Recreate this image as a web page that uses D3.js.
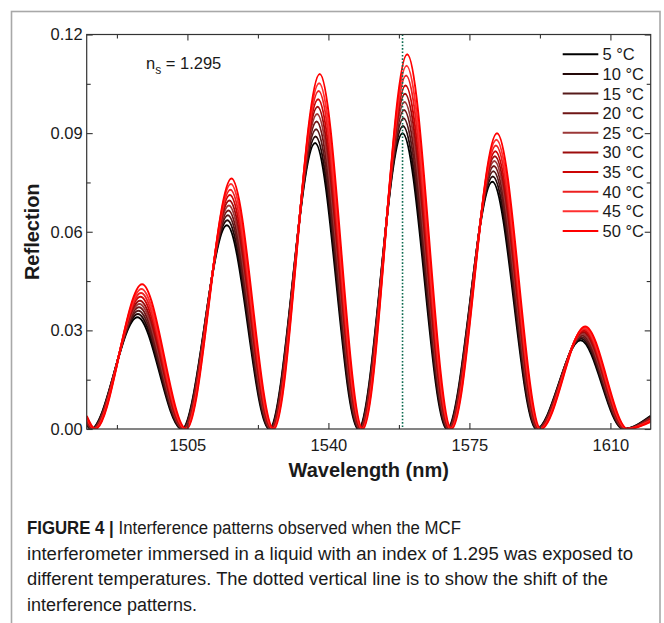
<!DOCTYPE html>
<html>
<head>
<meta charset="utf-8">
<script src="https://cdn.jsdelivr.net/npm/d3@7"></script>
<style>
  html, body { margin: 0; padding: 0; background: #fff; }
  svg { display: block; }
  text { font-family: "Liberation Sans", Arial, Helvetica, sans-serif; fill: #1a1a1a; }
</style>
</head>
<body>
<svg id="fig" width="664" height="623"></svg>
<script>
// ---- data ----
const temperatures = ["5 °C", "10 °C", "15 °C", "20 °C", "25 °C", "30 °C", "35 °C", "40 °C", "45 °C", "50 °C"];
const seriesColors = ["#000000", "#240909", "#561b1b", "#6f1616", "#9b3838", "#9c0c0c", "#cc0505", "#ec2020", "#ff3030", "#ff0000"];

// fringe minima and maxima of the 5 °C spectrum (nm)
const troughNm = [1481.0, 1503.6, 1525.3, 1547.4, 1569.4, 1591.6, 1613.2];
const peakNm = [1492.6, 1514.8, 1536.7, 1558.4, 1580.7, 1602.6];
// red shift of each spectrum relative to 5 °C (nm)
const shiftNm = [0, 0.12, 0.25, 0.38, 0.5, 0.62, 0.75, 0.88, 1.0, 1.15];
// peak reflection of each fringe, one row per temperature
const peakReflection = [
  [0.0340, 0.0620, 0.0870, 0.0900, 0.0752, 0.0270],
  [0.0350, 0.0635, 0.0890, 0.0922, 0.0768, 0.0275],
  [0.0360, 0.0650, 0.0912, 0.0945, 0.0784, 0.0280],
  [0.0370, 0.0665, 0.0935, 0.0970, 0.0800, 0.0285],
  [0.0380, 0.0680, 0.0958, 0.0995, 0.0815, 0.0290],
  [0.0390, 0.0695, 0.0980, 0.1020, 0.0830, 0.0295],
  [0.0402, 0.0712, 0.1003, 0.1045, 0.0845, 0.0300],
  [0.0414, 0.0728, 0.1028, 0.1075, 0.0862, 0.0304],
  [0.0426, 0.0745, 0.1052, 0.1105, 0.0880, 0.0308],
  [0.0440, 0.0762, 0.1080, 0.1140, 0.0900, 0.0312]
];
// reflection at the two ends of the scanned range
const edgeLeft = [0.0012, 0.0015, 0.0018, 0.0021, 0.0024, 0.0027, 0.0030, 0.0033, 0.0036, 0.0040];
const edgeRight = [0.0040, 0.0038, 0.0036, 0.0034, 0.0032, 0.0030, 0.0028, 0.0026, 0.0024, 0.0022];

const markerNm = 1558.4;
const xMajorTicks = [1505, 1540, 1575, 1610];
const xMinorTicks = [1487.5, 1522.5, 1557.5, 1592.5];
const yMajorTicks = [0, 0.03, 0.06, 0.09, 0.12];
const yMinorTicks = [0.015, 0.045, 0.075, 0.105];
const indexLabel = "1.295";

const captionLines = [
  { bold: "FIGURE 4 |", text: " Interference patterns observed when the MCF", len: 434 },
  { bold: "", text: "interferometer immersed in a liquid with an index of 1.295 was exposed to", len: 606 },
  { bold: "", text: "different temperatures. The dotted vertical line is to show the shift of the", len: 581 },
  { bold: "", text: "interference patterns.", len: 170 }
];

// ---- layout ----
const svg = d3.select("#fig");
const plot = { left: 86.7, right: 650.7, top: 34.5, bottom: 429 };

const x = d3.scaleLinear().domain([1480, 1620]).range([plot.left, plot.right]);
const y = d3.scaleLinear().domain([0, 0.12]).range([plot.bottom, plot.top]);

// outer figure frame
svg.append("rect")
  .attr("x", 11.5).attr("y", 11.5)
  .attr("width", 648.5).attr("height", 640)
  .attr("fill", "none").attr("stroke", "#a8a8a8").attr("stroke-width", 1.6);

svg.append("clipPath").attr("id", "plotClip")
  .append("rect")
  .attr("x", plot.left).attr("y", plot.top)
  .attr("width", plot.right - plot.left).attr("height", plot.bottom - plot.top);

// spectra
const line = d3.line()
  .x(d => x(d[0]))
  .y(d => y(d[1]))
  .curve(d3.curveMonotoneX);

const spectra = temperatures.map((t, i) => {
  const pts = [[1480, edgeLeft[i]]];
  troughNm.forEach((tw, k) => {
    pts.push([tw + shiftNm[i], 0]);
    if (k < peakNm.length) pts.push([peakNm[k] + shiftNm[i], peakReflection[i][k]]);
  });
  pts.push([1620, edgeRight[i]]);
  return pts;
});

const curves = svg.append("g").attr("clip-path", "url(#plotClip)");
curves.selectAll("path")
  .data(spectra)
  .join("path")
  .attr("d", line)
  .attr("fill", "none")
  .attr("stroke", (d, i) => seriesColors[i])
  .attr("stroke-width", 2);

// dotted reference line
svg.append("line")
  .attr("x1", x(markerNm)).attr("x2", x(markerNm))
  .attr("y1", plot.top).attr("y2", plot.bottom)
  .attr("stroke", "#0d6b50").attr("stroke-width", 1.6)
  .attr("stroke-dasharray", "1.6,1.8");

// axes (ticks point inward on all four sides)
const axisColor = "#333";
function styleAxis(g) {
  g.select(".domain").remove();
  g.selectAll(".tick line").attr("stroke", axisColor).attr("stroke-width", 1.1);
  g.selectAll(".tick text").attr("fill", "#1a1a1a")
    .style("font-family", '"Liberation Sans", Arial, sans-serif');
}
const h = plot.bottom - plot.top, w = plot.right - plot.left;

svg.append("g").attr("transform", `translate(0,${plot.bottom})`)
  .call(d3.axisBottom(x).tickValues(xMajorTicks).tickSizeInner(-6).tickSizeOuter(0).tickPadding(10).tickFormat(d3.format("d")))
  .call(styleAxis)
  .call(g => g.selectAll(".tick text").attr("font-size", 16.5));
svg.append("g").attr("transform", `translate(0,${plot.bottom})`)
  .call(d3.axisBottom(x).tickValues(xMinorTicks).tickSizeInner(-4).tickSizeOuter(0).tickFormat(""))
  .call(styleAxis);
svg.append("g").attr("transform", `translate(0,${plot.top})`)
  .call(d3.axisTop(x).tickValues(xMajorTicks).tickSizeInner(-6).tickSizeOuter(0).tickFormat(""))
  .call(styleAxis);
svg.append("g").attr("transform", `translate(0,${plot.top})`)
  .call(d3.axisTop(x).tickValues(xMinorTicks).tickSizeInner(-4).tickSizeOuter(0).tickFormat(""))
  .call(styleAxis);

svg.append("g").attr("transform", `translate(${plot.left},0)`)
  .call(d3.axisLeft(y).tickValues(yMajorTicks).tickSizeInner(-6).tickSizeOuter(0).tickPadding(4).tickFormat(d3.format(".2f")))
  .call(styleAxis)
  .call(g => g.selectAll(".tick text").attr("font-size", 16.5).attr("x", -4));
svg.append("g").attr("transform", `translate(${plot.left},0)`)
  .call(d3.axisLeft(y).tickValues(yMinorTicks).tickSizeInner(-4).tickSizeOuter(0).tickFormat(""))
  .call(styleAxis);
svg.append("g").attr("transform", `translate(${plot.right},0)`)
  .call(d3.axisRight(y).tickValues(yMajorTicks).tickSizeInner(-6).tickSizeOuter(0).tickFormat(""))
  .call(styleAxis);
svg.append("g").attr("transform", `translate(${plot.right},0)`)
  .call(d3.axisRight(y).tickValues(yMinorTicks).tickSizeInner(-4).tickSizeOuter(0).tickFormat(""))
  .call(styleAxis);

// plot frame
svg.append("rect")
  .attr("x", plot.left).attr("y", plot.top).attr("width", w).attr("height", h)
  .attr("fill", "none").attr("stroke", axisColor).attr("stroke-width", 1.2);

// axis titles
svg.append("text")
  .attr("x", (plot.left + plot.right) / 2).attr("y", 477)
  .attr("text-anchor", "middle").attr("font-size", 20).attr("font-weight", "bold")
  .text("Wavelength (nm)");
svg.append("text")
  .attr("transform", `translate(39,${(plot.top + plot.bottom) / 2}) rotate(-90)`)
  .attr("text-anchor", "middle").attr("font-size", 20).attr("font-weight", "bold")
  .text("Reflection");

// refractive index annotation
const ns = svg.append("text").attr("x", 146).attr("y", 69).attr("font-size", 16.5);
ns.append("tspan").text("n");
ns.append("tspan").attr("font-size", 12).attr("dy", 5).text("s");
ns.append("tspan").attr("dy", -5).text(" = " + indexLabel);

// legend
const legend = svg.append("g");
temperatures.forEach((t, i) => {
  const ly = 54.3 + i * 19.63;
  legend.append("line")
    .attr("x1", 562.7).attr("x2", 598.3).attr("y1", ly).attr("y2", ly)
    .attr("stroke", seriesColors[i]).attr("stroke-width", 2);
  legend.append("text")
    .attr("x", 602.5).attr("y", ly).attr("dy", "0.36em")
    .attr("font-size", 16.5).text(t);
});

// caption
captionLines.forEach((c, i) => {
  const t = svg.append("text")
    .attr("x", 27).attr("y", 534 + i * 25.5)
    .attr("font-size", 18)
    .attr("textLength", c.len).attr("lengthAdjust", "spacingAndGlyphs");
  if (c.bold) t.append("tspan").attr("font-weight", "bold").text(c.bold);
  t.append("tspan").text(c.text);
});
</script>
</body>
</html>
